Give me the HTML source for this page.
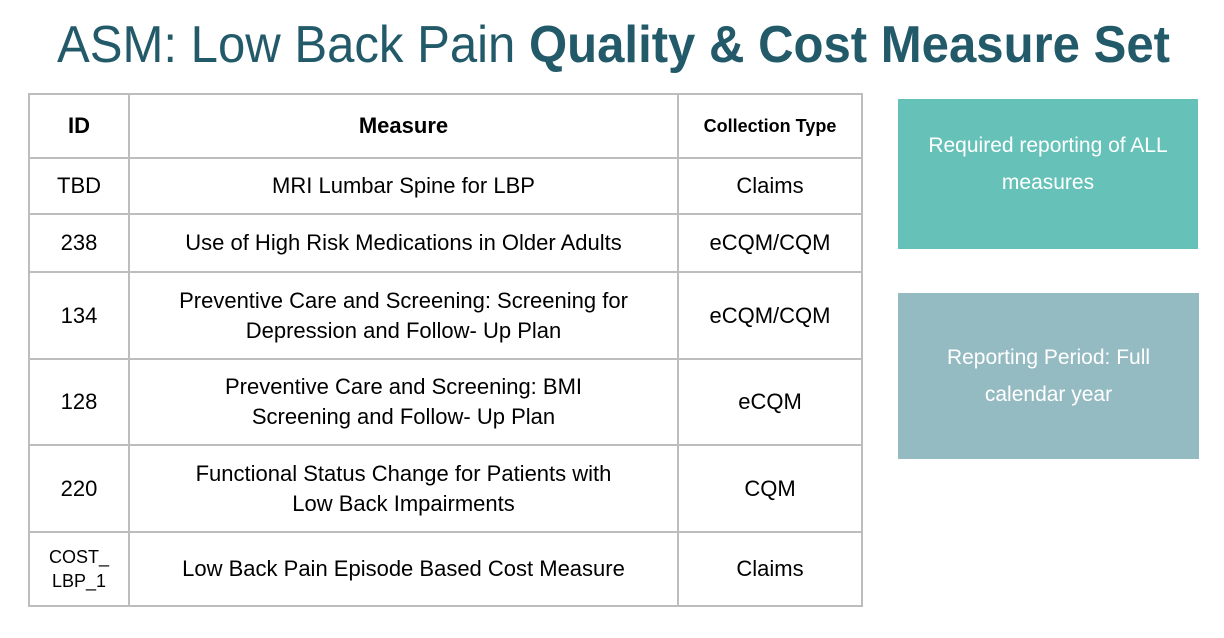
<!DOCTYPE html>
<html><head><meta charset="utf-8"><style>
body{margin:0;width:1224px;height:638px;background:#fff;overflow:hidden;position:relative;font-family:"Liberation Sans",sans-serif}
table{position:absolute;left:28px;top:93px;border-collapse:collapse;width:835px}
td{border:2px solid #bdbdbd;text-align:center;vertical-align:middle;font-size:22px;color:#000;line-height:30px;padding:0}
.box{position:absolute;color:#fff;font-size:21px;text-align:center;line-height:37px;display:flex;align-items:center;justify-content:center}
</style></head><body>
<svg width="1224" height="90" style="position:absolute;left:0;top:0">
<text x="57" y="62" textLength="1113" lengthAdjust="spacingAndGlyphs" font-family="Liberation Sans" font-size="52" fill="#235a6a">ASM: Low Back Pain <tspan font-weight="bold">Quality &amp; Cost Measure Set</tspan></text>
</svg>
<table>
<tr style="height:64px"><td style="width:98px;font-weight:bold">ID</td><td style="width:547px;font-weight:bold">Measure</td><td style="font-weight:bold;font-size:18px">Collection Type</td></tr>
<tr style="height:56px"><td>TBD</td><td>MRI Lumbar Spine for LBP</td><td>Claims</td></tr>
<tr style="height:58px"><td>238</td><td>Use of High Risk Medications in Older Adults</td><td>eCQM/CQM</td></tr>
<tr style="height:87px"><td>134</td><td>Preventive Care and Screening: Screening for<br>Depression and Follow- Up Plan</td><td>eCQM/CQM</td></tr>
<tr style="height:86px"><td>128</td><td>Preventive Care and Screening: BMI<br>Screening and Follow- Up Plan</td><td>eCQM</td></tr>
<tr style="height:87px"><td>220</td><td>Functional Status Change for Patients with<br>Low Back Impairments</td><td>CQM</td></tr>
<tr style="height:74px"><td style="font-size:18px;line-height:24px">COST_<br>LBP_1</td><td>Low Back Pain Episode Based Cost Measure</td><td>Claims</td></tr>
</table>
<div class="box" style="left:898px;top:99px;width:300px;height:130px;padding-bottom:20px;background:#66c2b8">Required reporting of ALL<br>measures</div>
<div class="box" style="left:898px;top:293px;width:301px;height:166px;background:#95bbc2">Reporting Period: Full<br>calendar year</div>
</body></html>
